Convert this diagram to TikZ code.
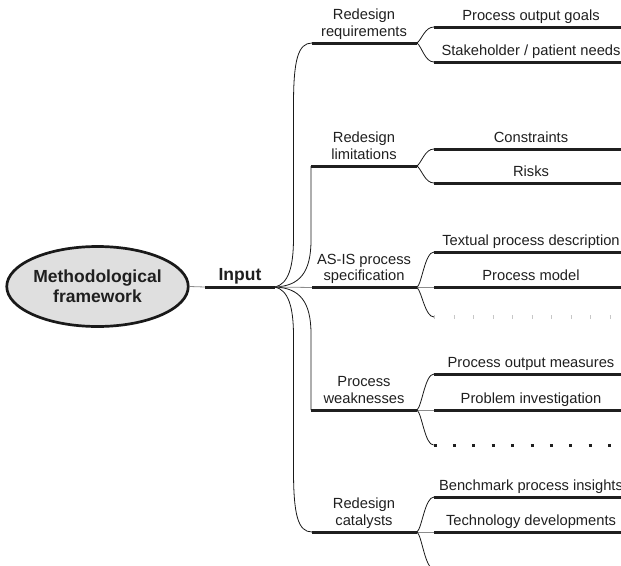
\documentclass[tikz,border=0pt]{standalone}
\usepackage{fontspec}
\setmainfont{Liberation Sans}
\usetikzlibrary{shapes.geometric}
\begin{document}
\begin{tikzpicture}[x=1pt,y=-1pt,
  thickline/.style={line width=3pt, black!88},
  thinline/.style={line width=0.8pt, black!90},
  grayline/.style={line width=0.8pt, black!45},
  lbl/.style={inner sep=0pt, anchor=base, text=black!88, font=\fontsize{14.7}{16}\selectfont},
  blbl/.style={inner sep=0pt, anchor=base, text=black!88, font=\fontsize{17.5}{20}\selectfont\bfseries},
  squaredots/.style={line width=3pt, black!88, dash pattern=on 3pt off 16.4pt},
  faintticks/.style={line width=3.5pt, black!22, dash pattern=on 0.7pt off 18.8pt}
]
\clip (0,0) rectangle (621,565);

% root
\node[ellipse, draw=black!90, line width=2.7pt, fill=gray!25, minimum width=178pt,
      minimum height=80pt, inner sep=0pt, align=center, text=black!88,
      font=\fontsize{17.5}{20}\selectfont\bfseries] (mf) at (97.5,286.5) {Methodological\\framework};

\coordinate (in0) at (205,287);
\coordinate (br) at (275,287);
\draw[grayline] (mf.east) -- (in0);
\draw[thickline] (in0) -- (br);
\node[blbl] (inlbl) at (240,280.5) {Input};

% level 2 coordinates
\coordinate (reqS) at (312,43);    \coordinate (reqE) at (417,43);
\coordinate (limS) at (311,166);   \coordinate (limE) at (417,166);
\coordinate (asiS) at (312,287.5); \coordinate (asiE) at (417,287.5);
\coordinate (weaS) at (311,410);   \coordinate (weaE) at (417,410);
\coordinate (catS) at (312,532);   \coordinate (catE) at (417,532);

% branch curves
\draw[thinline] (br) .. controls (288,284) and (293.5,268) .. (293.5,238)
  -- (293.5,105) .. controls (293.5,60) and (298,43) .. (reqS);
\draw[thinline] (br) .. controls (300,286) and (311,272) .. (311,240) -- (limS);
\draw[grayline] (br) -- (asiS);
\draw[thinline] (br) .. controls (300,288) and (311,302) .. (311,334) -- (weaS);
\draw[thinline] (br) .. controls (288,290) and (293.5,306) .. (293.5,336)
  -- (293.5,470) .. controls (293.5,515) and (298,532) .. (catS);

\foreach \s/\e in {reqS/reqE, limS/limE, asiS/asiE, weaS/weaE, catS/catE}
  \draw[thickline] (\s) -- (\e);

% level 2 labels
\node[lbl] (req1) at (364,19.5) {Redesign};
\node[lbl] (req2) at (364,36) {requirements};
\node[lbl] (lim1) at (364,142.5) {Redesign};
\node[lbl] (lim2) at (364,159) {limitations};
\node[lbl] (asi1) at (364,264) {AS-IS process};
\node[lbl] (asi2) at (364,280.5) {specification};
\node[lbl] (wea1) at (364,386.5) {Process};
\node[lbl] (wea2) at (364,403) {weaknesses};
\node[lbl] (cat1) at (364,508.5) {Redesign};
\node[lbl] (cat2) at (364,525) {catalysts};

% level 3 coordinates
\coordinate (r1S) at (434,27);    \coordinate (r1E) at (621,27);
\coordinate (r2S) at (434,62);    \coordinate (r2E) at (621,62);
\coordinate (l1S) at (434,149);   \coordinate (l1E) at (621,149);
\coordinate (l2S) at (434,183);   \coordinate (l2E) at (621,183);
\coordinate (a1S) at (434,252);   \coordinate (a1E) at (621,252);
\coordinate (a2S) at (434,287.5); \coordinate (a2E) at (621,287.5);
\coordinate (a3S) at (434,317);   \coordinate (a3E) at (621,317);
\coordinate (w1S) at (434,374);   \coordinate (w1E) at (621,374);
\coordinate (w2S) at (434,410);   \coordinate (w2E) at (621,410);
\coordinate (w3S) at (433.5,445); \coordinate (w3E) at (621,445);
\coordinate (c1S) at (434,497);   \coordinate (c1E) at (621,497);
\coordinate (c2S) at (434,532);   \coordinate (c2E) at (621,532);
\coordinate (c3S) at (434,569);

% level 3 connectors
\draw[thinline] (reqE) .. controls (422,39) and (425,27) .. (r1S);
\draw[thinline] (reqE) .. controls (422,47) and (425,62) .. (r2S);
\draw[thinline] (limE) .. controls (422,162) and (425,149) .. (l1S);
\draw[thinline] (limE) .. controls (422,170) and (425,183) .. (l2S);
\draw[thinline] (asiE) .. controls (422,283) and (425,252) .. (a1S);
\draw[grayline] (asiE) -- (a2S);
\draw[thinline] (asiE) .. controls (422,292) and (425,317) .. (a3S);
\draw[thinline] (weaE) .. controls (422,406) and (425,374) .. (w1S);
\draw[grayline] (weaE) -- (w2S);
\draw[thinline] (weaE) .. controls (422,414) and (425,445) .. (w3S);
\draw[thinline] (catE) .. controls (422,528) and (425,497) .. (c1S);
\draw[grayline] (catE) -- (c2S);
\draw[thinline] (catE) .. controls (422,536) and (425,569) .. (c3S);

\foreach \s/\e in {r1S/r1E, r2S/r2E, l1S/l1E, l2S/l2E, a1S/a1E, a2S/a2E,
                   w1S/w1E, w2S/w2E, c1S/c1E, c2S/c2E}
  \draw[thickline] (\s) -- (\e);
\draw[faintticks] (a3S) -- (a3E);
\draw[squaredots] (w3S) -- (w3E);

% level 3 labels
\node[lbl] (t1) at (531,20) {Process output goals};
\node[lbl] (t2) at (531,55) {Stakeholder / patient needs};
\node[lbl] (t3) at (531,142) {Constraints};
\node[lbl] (t4) at (531,176) {Risks};
\node[lbl] (t5) at (531,245) {Textual process description};
\node[lbl] (t6) at (531,280.5) {Process model};
\node[lbl] (t7) at (531,367) {Process output measures};
\node[lbl] (t8) at (531,403) {Problem investigation};
\node[lbl] (t9) at (531,490) {Benchmark process insights};
\node[lbl] (t10) at (531,525) {Technology developments};
\end{tikzpicture}
\end{document}
